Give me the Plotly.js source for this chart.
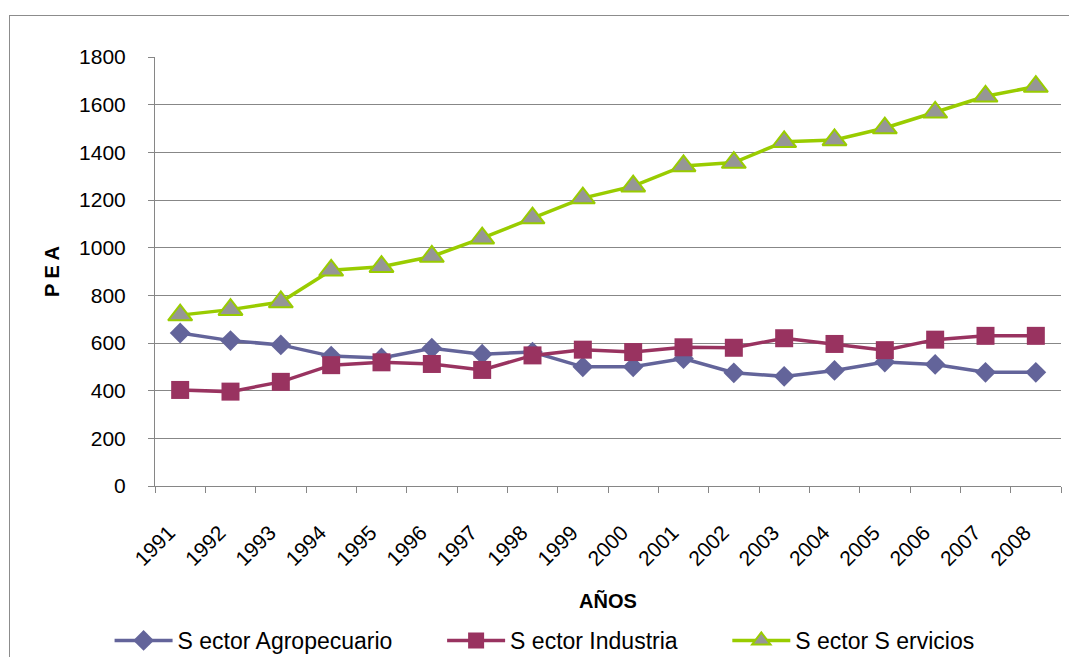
<!DOCTYPE html>
<html>
<head>
<meta charset="utf-8">
<script src="https://cdn.plot.ly/plotly-3.0.1.min.js"></script>
<style>
  html, body { margin: 0; padding: 0; background: #ffffff; overflow: hidden; }
  #frame { position: absolute; left: 9px; top: 15px; width: 1100px; height: 700px; border: 1px solid #8c8c8c; }
  #chart { position: absolute; left: 0; top: 0; width: 1069px; height: 657px; }
</style>
</head>
<body>
<div id="frame"></div>
<div id="chart"></div>
<script>
const years = ['1991','1992','1993','1994','1995','1996','1997','1998','1999','2000','2001','2002','2003','2004','2005','2006','2007','2008'];
const agropecuario = [642, 610, 592, 545, 537, 578, 553, 562, 500, 500, 535, 475, 460, 485, 520, 510, 477, 477];
const industria    = [403, 396, 437, 507, 519, 512, 487, 548, 572, 562, 582, 580, 620, 596, 570, 614, 630, 630];
const servicios    = [717, 740, 772, 905, 920, 963, 1040, 1124, 1208, 1258, 1343, 1357, 1444, 1452, 1502, 1568, 1635, 1676];
const seriesNames  = ['S ector Agropecuario', 'S ector Industria', 'S ector S ervicios'];

const baseFont = 'Liberation Sans, Arial, sans-serif';
const pad = '\u00a0\u00a0\u00a0\u00a0\u00a0\u00a0\u00a0';

const traces = [
  {
    x: years, y: agropecuario, name: seriesNames[0] + pad, type: 'scatter', mode: 'lines+markers',
    line: {color: '#63649a', width: 3.5},
    marker: {symbol: 'diamond', size: 16, color: '#63649a', line: {width: 0}}
  },
  {
    x: years, y: industria, name: seriesNames[1] + pad, type: 'scatter', mode: 'lines+markers',
    line: {color: '#993360', width: 3.5},
    marker: {symbol: 'square', size: 18, color: '#993360', line: {width: 0}}
  },
  {
    x: years, y: servicios, name: seriesNames[2], type: 'scatter', mode: 'lines+markers',
    line: {color: '#99cc00', width: 3.5},
    marker: {symbol: 'triangle-up', size: 21, color: '#969696', line: {width: 2, color: '#99cc00'}}
  }
];

const layout = {
  width: 1069, height: 657,
  margin: {l: 155, r: 8, t: 57, b: 171, autoexpand: false},
  paper_bgcolor: 'rgba(0,0,0,0)',
  plot_bgcolor: '#ffffff',
  font: {family: baseFont, color: '#000000', size: 21},
  showlegend: true,
  legend: {
    orientation: 'h', x: 0.43, xanchor: 'center', y: -0.36, yanchor: 'middle',
    font: {family: baseFont, size: 23, color: '#000000'},
    itemwidth: 58, bgcolor: 'rgba(0,0,0,0)', traceorder: 'normal'
  },
  xaxis: {
    type: 'category', automargin: false, range: [-0.5, 17.5], autorange: false,
    showline: true, linecolor: '#868686', linewidth: 1,
    ticks: 'outside', tickson: 'boundaries', ticklen: 6, tickcolor: '#868686',
    tickangle: -45, tickfont: {family: baseFont, size: 21},
    ticklabelstandoff: 25, ticklabelshift: -11,
    showgrid: false, zeroline: false,
    title: {text: 'AÑOS', font: {family: baseFont, size: 20, weight: 'bold'}, standoff: 25}
  },
  yaxis: {
    range: [0, 1800], dtick: 200, automargin: false,
    showline: true, linecolor: '#868686', linewidth: 1,
    ticks: 'outside', ticklen: 6, tickcolor: '#868686',
    tickfont: {family: baseFont, size: 21}, ticklabelstandoff: 18,
    showgrid: true, gridcolor: '#878787', gridwidth: 1, zeroline: false,
    title: {text: 'P E A', font: {family: baseFont, size: 20, weight: 'bold'}, standoff: 14}
  }
};

Plotly.newPlot('chart', traces, layout, {displayModeBar: false, staticPlot: true});
</script>
</body>
</html>
